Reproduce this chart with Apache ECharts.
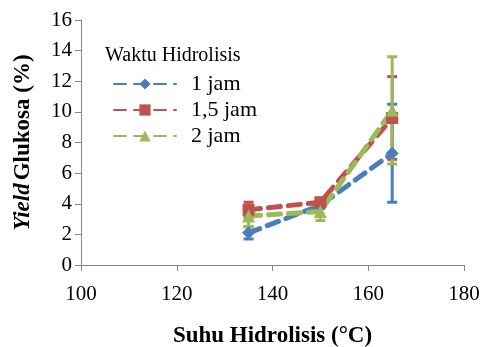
<!DOCTYPE html>
<html><head><meta charset="utf-8">
<script src="https://cdn.jsdelivr.net/npm/echarts@6/dist/echarts.min.js"></script>
<style>html,body{margin:0;padding:0;background:#fff}#c{width:484px;height:347px}</style>
</head><body><div id="c"></div>
<script>
const temps = [135, 150, 165];
const seriesNames = ['1 jam', '1,5 jam', '2 jam'];
const yield1 = [2.1, 3.9, 7.3];
const yield15 = [3.6, 4.1, 9.6];
const yield2 = [3.2, 3.5, 10.1];
const err1 = [0.4, 0.2, 3.2];
const err15 = [0.5, 0.2, 2.7];
const err2 = [0.7, 0.6, 3.5];
const xTicks = [100, 120, 140, 160, 180];
const yTicks = [0, 2, 4, 6, 8, 10, 12, 14, 16];

const colors = ['#4A7EBB', '#C0504D', '#9BBB59'];
const symbols = ['diamond', 'rect', 'triangle'];
const symbolSizes = [13, 12, 13];
const values = [yield1, yield15, yield2];
const errs = [err1, err15, err2];
const font = '"Liberation Serif", serif';

const chart = echarts.init(document.getElementById('c'));
const series = [];
values.forEach((vals, i) => {
  series.push({
    type: 'custom', name: seriesNames[i] + '_err', silent: true, z: 1,
    data: temps.map((t, k) => [t, vals[k] - errs[i][k], vals[k] + errs[i][k]]),
    renderItem: function (params, api) {
      const lo = api.coord([api.value(0), api.value(1)]);
      const hi = api.coord([api.value(0), api.value(2)]);
      const w = 5;
      const st = { stroke: colors[i], lineWidth: 3 };
      return { type: 'group', children: [
        { type: 'line', shape: { x1: lo[0], y1: lo[1], x2: hi[0], y2: hi[1] }, style: st },
        { type: 'line', shape: { x1: lo[0] - w, y1: lo[1], x2: lo[0] + w, y2: lo[1] }, style: st },
        { type: 'line', shape: { x1: hi[0] - w, y1: hi[1], x2: hi[0] + w, y2: hi[1] }, style: st }
      ]};
    }
  });
});
values.forEach((vals, i) => {
  series.push({
    type: 'line', name: seriesNames[i], z: 3,
    data: temps.map((t, k) => [t, vals[k]]),
    symbol: symbols[i], symbolSize: symbolSizes[i],
    itemStyle: { color: colors[i] },
    lineStyle: { color: colors[i], width: 5, type: [12, 8], cap: 'round' }
  });
});

const tickRich = { t: { fontFamily: font, fontSize: 21, color: '#000' } };

chart.setOption({
  animation: false,
  color: colors,
  textStyle: { fontFamily: font, color: '#000' },
  grid: { left: 81, right: 20, top: 20, bottom: 82, outerBoundsMode: 'none', containLabel: false },
  title: { text: 'Waktu Hidrolisis', left: 100, top: 41,
    textStyle: { fontFamily: font, fontSize: 20, fontWeight: 'normal', color: '#000' } },
  legend: {
    data: seriesNames, orient: 'vertical', left: 108, top: 68,
    itemWidth: 62, itemHeight: 14, itemGap: 4,
    textStyle: { fontFamily: font, fontSize: 22, color: '#000', padding: [0, 0, 0, 10] }
  },
  xAxis: {
    type: 'value', min: 100, max: 180, interval: 20,
    name: 'Suhu Hidrolisis (°C)', nameLocation: 'middle', nameGap: 60,
    nameTextStyle: { fontFamily: font, fontSize: 23, fontWeight: 'bold', color: '#000' },
    axisLine: { lineStyle: { color: '#868686', width: 1 } },
    axisTick: { length: 6, lineStyle: { color: '#868686' } },
    axisLabel: { fontFamily: font, fontSize: 21, color: '#000', margin: 19,
      formatter: v => '{t|' + v + '}', rich: tickRich },
    splitLine: { show: false }
  },
  yAxis: {
    type: 'value', min: 0, max: 16, interval: 2,
    name: '{i|Yield} {b|Glukosa (%)}', nameLocation: 'middle', nameGap: 46, nameRotate: 90,
    nameTextStyle: { rich: {
      i: { fontFamily: font, fontSize: 23, fontWeight: 'bold', fontStyle: 'italic', color: '#000' },
      b: { fontFamily: font, fontSize: 23, fontWeight: 'bold', color: '#000' } } },
    axisLine: { show: true, lineStyle: { color: '#868686', width: 1 } },
    axisTick: { show: true, length: 6, lineStyle: { color: '#868686' } },
    axisLabel: { fontFamily: font, fontSize: 21, color: '#000', margin: 9,
      formatter: v => '{t|' + v + '}', rich: tickRich },
    splitLine: { show: false }
  },
  series: series
});
</script></body></html>
